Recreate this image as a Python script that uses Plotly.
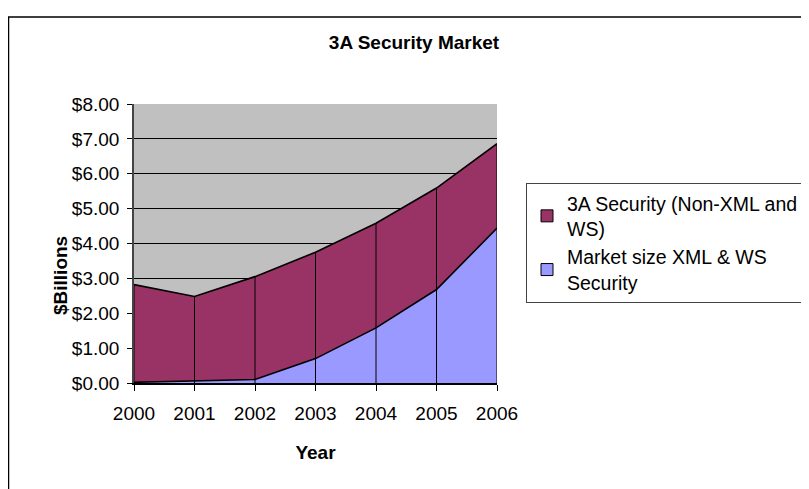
import plotly.graph_objects as go

years = [2000, 2001, 2002, 2003, 2004, 2005, 2006]
xml_ws = [0.02, 0.05, 0.10, 0.70, 1.58, 2.68, 4.44]
non_xml = [2.80, 2.43, 2.95, 3.05, 3.00, 2.91, 2.42]
series_names = ["Market size XML & WS<br>Security", "3A Security (Non-XML and<br>WS)"]
series_colors = ["#9999FF", "#993366"]
y_ticks = [0, 1, 2, 3, 4, 5, 6, 7, 8]

totals = [a + b for a, b in zip(xml_ws, non_xml)]

FONT = "Liberation Sans, Arial, sans-serif"
W, H = 801, 481
L, R, T, B = 126, 312, 96, 106
PW, PH = W - L - R, H - T - B

fig = go.Figure()
for vals, name, col in zip([xml_ws, non_xml], series_names, series_colors):
    fig.add_trace(go.Scatter(
        x=years, y=vals, name=name, stackgroup="s", mode="lines",
        line=dict(color="black", width=1.6), fillcolor=col, showlegend=False,
        hoverinfo="x+y",
    ))

# drop lines from axis to top of stack
dx, dy = [], []
for yr, t in zip(years, totals):
    dx += [yr, yr, None]
    dy += [0, t, None]
fig.add_trace(go.Scatter(x=dx, y=dy, mode="lines", line=dict(color="black", width=1),
                         showlegend=False, hoverinfo="skip"))

# legend entries (square swatches), top series first
for name, col, rank in zip(series_names, series_colors, [2, 1]):
    fig.add_trace(go.Scatter(
        x=[None], y=[None], mode="markers", name=name, legendrank=rank,
        marker=dict(symbol="square", size=12, color=col, line=dict(color="black", width=1)),
    ))

fig.update_layout(
    width=W, height=H,
    margin=dict(l=L, r=R, t=T, b=B, autoexpand=False),
    paper_bgcolor="white", plot_bgcolor="#C0C0C0",
    font=dict(family=FONT, size=19, color="black"),
    title=dict(text="<b>3A Security Market</b>", x=406 / W, xref="container", xanchor="center",
               y=1 - 34 / H, yref="container", yanchor="middle",
               font=dict(size=19, family=FONT)),
    showlegend=True,
    legend=dict(x=(518 - L) / PW, y=(375 - 175) / PH, xanchor="left", yanchor="top",
                bordercolor="#444444", borderwidth=1, bgcolor="white",
                font=dict(size=19.5, family=FONT), traceorder="normal",
                tracegroupgap=0, itemwidth=30),
    xaxis=dict(range=[2000, 2006], tickmode="array", tickvals=years,
               ticktext=[str(y) for y in years], showgrid=False, zeroline=False,
               showline=True, linecolor="black", linewidth=1.6,
               ticks="outside", ticklen=6, tickcolor="black", ticklabelstandoff=6,
               title=dict(text="<b>Year</b>", font=dict(size=19), standoff=23)),
    yaxis=dict(range=[0, 8], tickmode="array", tickvals=y_ticks,
               ticktext=["${:.2f}".format(v) for v in y_ticks],
               showgrid=True, gridcolor="black", gridwidth=1, zeroline=False,
               showline=True, linecolor="#444444", linewidth=1.6,
               ticks="outside", ticklen=5, tickcolor="black", ticklabelstandoff=4),
    annotations=[dict(text="<b>$Billions</b>", xref="paper", yref="paper",
                      x=(52 - L) / PW, y=(375 - 268) / PH, textangle=-90,
                      showarrow=False, xanchor="center", yanchor="middle",
                      font=dict(size=19, family=FONT))],
    shapes=[dict(type="rect", xref="paper", yref="paper",
                 x0=(0.5 - L) / PW, x1=(W + 20 - L) / PW,
                 y0=(375 - H - 20) / PH, y1=(375 - 9) / PH,
                 line=dict(color="black", width=1.5), fillcolor="rgba(0,0,0,0)",
                 layer="below")],
)

fig.write_html("out.html")
